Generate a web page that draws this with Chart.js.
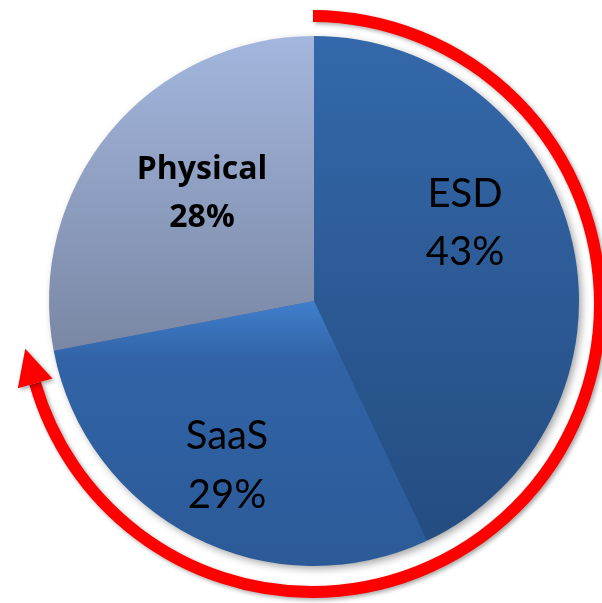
<!DOCTYPE html>
<html>
<head>
<meta charset="utf-8">
<script src="https://cdn.jsdelivr.net/npm/chart.js@4.4.0/dist/chart.umd.min.js"></script>
<style>
  html, body { margin: 0; padding: 0; background: #fff; }
  canvas { display: block; }
</style>
</head>
<body>
<canvas id="share-chart" width="602" height="603"></canvas>
<script>
const categories = ['ESD', 'SaaS', 'Physical'];
const shares = [43, 29, 28];

// gradient stops per slice (top -> bottom)
const sliceStops = [
  [[0, '#3468aa'], [1, '#234b7f']],
  [[0, '#407fcd'], [0.22, '#3163a6'], [1, '#2b5a97']],
  [[0, '#a3b6dd'], [1, '#7a88a5']]
];
// label placement, offsets in px for a 265px radius: [dx, baseline1, baseline2]
const labelPos = [
  [151, -94, -36],
  [-87, 148, 207],
  [-112, -122, -74]
];
const labelFont = [
  'normal 40px Lato',
  'normal 40px Lato',
  'bold 32px "Open Sans"'
];

function sliceGradient(ctx) {
  const chart = ctx.chart;
  const area = chart.chartArea;
  if (!area) return sliceStops[ctx.dataIndex][0][1];
  const cy = (area.top + area.bottom) / 2;
  const r = Math.min(area.right - area.left, area.bottom - area.top) / 2;
  let y0 = cy - r, y1 = cy + r;
  if (ctx.dataIndex === 1) y0 = cy;
  if (ctx.dataIndex === 2) y1 = cy + r * 0.17;
  const g = chart.ctx.createLinearGradient(0, y0, 0, y1);
  sliceStops[ctx.dataIndex].forEach(s => g.addColorStop(s[0], s[1]));
  return g;
}

const pieShadow = {
  id: 'pieShadow',
  beforeDatasetsDraw(chart) {
    const arc = chart.getDatasetMeta(0).data[0];
    if (!arc) return;
    const ctx = chart.ctx;
    ctx.save();
    ctx.shadowColor = 'rgba(0,0,0,0.4)';
    ctx.shadowBlur = 8;
    ctx.shadowOffsetX = 3;
    ctx.shadowOffsetY = 3;
    ctx.fillStyle = '#2b5a97';
    ctx.beginPath();
    ctx.arc(arc.x, arc.y, arc.outerRadius - 1, 0, Math.PI * 2);
    ctx.fill();
    ctx.restore();
  }
};

const sliceLabels = {
  id: 'sliceLabels',
  afterDatasetsDraw(chart) {
    const meta = chart.getDatasetMeta(0);
    const ctx = chart.ctx;
    const first = meta.data[0];
    const s = first.outerRadius / 265;
    ctx.save();
    ctx.fillStyle = '#000';
    ctx.textAlign = 'center';
    ctx.textBaseline = 'alphabetic';
    categories.forEach((name, i) => {
      const p = labelPos[i];
      ctx.font = labelFont[i];
      ctx.fillText(name, first.x + p[0] * s, first.y + p[1] * s);
      ctx.fillText(shares[i] + '%', first.x + p[0] * s, first.y + p[2] * s);
    });
    ctx.restore();
  }
};

const cycleArrow = {
  id: 'cycleArrow',
  afterDraw(chart) {
    const arc = chart.getDatasetMeta(0).data[0];
    if (!arc) return;
    const ctx = chart.ctx;
    const s = arc.outerRadius / 265;
    const cx = arc.x - 2 * s, cy = arc.y + 3 * s;
    const r = arc.outerRadius + 23 * s;
    const a0 = -89.8 * Math.PI / 180, a1 = 164 * Math.PI / 180;
    ctx.save();
    ctx.shadowColor = 'rgba(0,0,0,0.35)';
    ctx.shadowBlur = 4;
    ctx.shadowOffsetX = 2;
    ctx.shadowOffsetY = 2;
    ctx.strokeStyle = '#ff0000';
    ctx.fillStyle = '#ff0000';
    ctx.lineWidth = 12 * s;
    ctx.lineCap = 'butt';
    ctx.beginPath();
    ctx.arc(cx, cy, r, a0, a1, false);
    ctx.stroke();
    // arrow head
    const px = cx + r * Math.cos(a1), py = cy + r * Math.sin(a1);
    const tx = -Math.sin(a1), ty = Math.cos(a1);
    const nx = Math.cos(a1), ny = Math.sin(a1);
    const len = 36 * s, half = 18 * s;
    ctx.beginPath();
    ctx.moveTo(px + tx * len, py + ty * len);
    ctx.lineTo(px + nx * half, py + ny * half);
    ctx.lineTo(px - nx * half, py - ny * half);
    ctx.closePath();
    ctx.fill();
    ctx.restore();
  }
};

const ctx = document.getElementById('share-chart');

new Chart(ctx, {
  type: 'pie',
  data: {
    labels: categories,
    datasets: [{
      data: shares,
      backgroundColor: sliceGradient,
      borderWidth: 0,
      hoverOffset: 0
    }]
  },
  options: {
    responsive: false,
    animation: false,
    layout: {
      padding: { left: 49, right: 23, top: 36, bottom: 37 }
    },
    plugins: {
      legend: { display: false },
      tooltip: { enabled: false }
    }
  },
  plugins: [pieShadow, sliceLabels, cycleArrow]
});
</script>
</body>
</html>
